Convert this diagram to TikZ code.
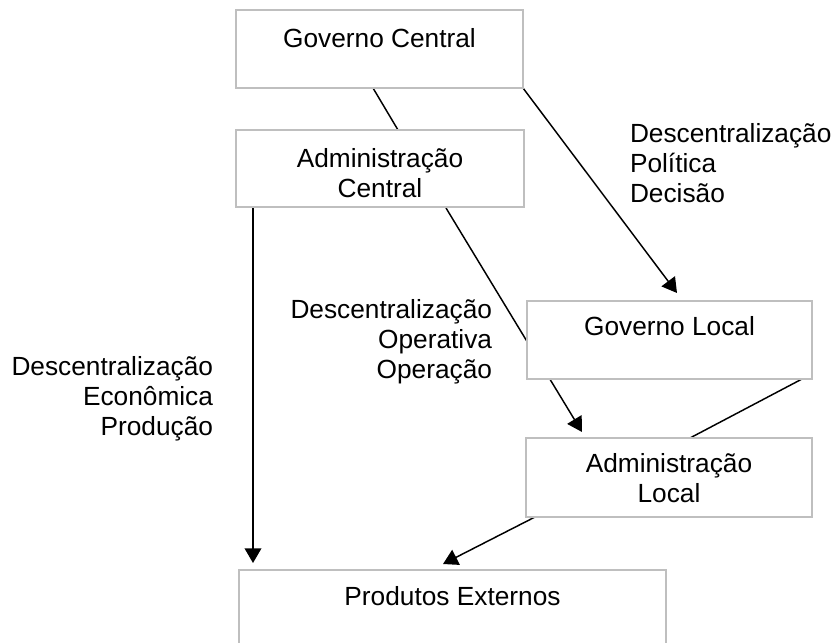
\documentclass[tikz,border=0pt]{standalone}
\usepackage{fontspec}
\setmainfont{Liberation Sans}
\usetikzlibrary{calc,arrows.meta,backgrounds}
\begin{document}
\begin{tikzpicture}[x=0.75pt,y=-0.75pt,
  box/.style={draw=black!25,line width=1.5pt,fill=white,rectangle,inner sep=0pt,outer sep=0pt},
  txt/.style={inner sep=0pt,outer sep=0pt,font=\fontsize{19.7pt}{22.5pt}\selectfont},
  conn/.style={draw=black,line width=1.1pt},
  arr/.style={conn,-{Triangle[length=11pt,width=12.5pt]}}]
\clip (0,0) rectangle (836,643);
% boxes
\node[box,minimum width=215.25pt,minimum height=58.5pt] (gc) at (379.5,49) {};
\node[box,minimum width=216pt,minimum height=57.75pt] (ac) at (380,168.5) {};
\node[box,minimum width=213.75pt,minimum height=58.5pt] (gl) at (669.5,340) {};
\node[box,minimum width=214.5pt,minimum height=59.25pt] (al) at (669,477.5) {};
\node[box,minimum width=320.25pt,minimum height=82.5pt] (pe) at (452.5,625) {};
% box texts (base = baseline of last line)
\node[txt,anchor=base] (gct) at (379.5,47) {Governo Central};
\node[txt,anchor=base,align=center] (act) at (380,197) {Administração\\Central};
\node[txt,anchor=base] (glt) at (669.5,335) {Governo Local};
\node[txt,anchor=base,align=center] (alt) at (669,502) {Administração\\Local};
\node[txt,anchor=base] (pet) at (452.5,605) {Produtos Externos};
% free labels
\node[txt,anchor=base east,align=right] (lbl1) at (213,435) {Descentralização\\Econômica\\Produção};
\node[txt,anchor=base east,align=right] (lbl2) at (492,378) {Descentralização\\Operativa\\Operação};
\node[txt,anchor=base west,align=left] (lbl3) at (630,202) {Descentralização\\Política\\Decisão};
% connectors
\begin{pgfonlayer}{background}
\draw[conn] ($(gc.south)+(-6.5,0)$) -- ($(ac.north)+(18,0)$);
\draw[arr] (gc.south east) -- ($(gl.north)+(7.5,-8)$);
\draw[arr] ($(ac.south east)+(-78,1)$) -- ($(al.north)+(-87,-6)$);
\draw[conn] ($(gl.south east)+(-10,0)$) -- ($(al.north)+(21,0)$);
\draw[arr] ($(ac.south west)+(17,0)$) -- ($(pe.north west)+(14,-7)$);
\draw[arr] ($(al.south west)+(9,0)$) -- ($(pe.north)+(-9.5,-6)$);
\end{pgfonlayer}
\end{tikzpicture}
\end{document}
